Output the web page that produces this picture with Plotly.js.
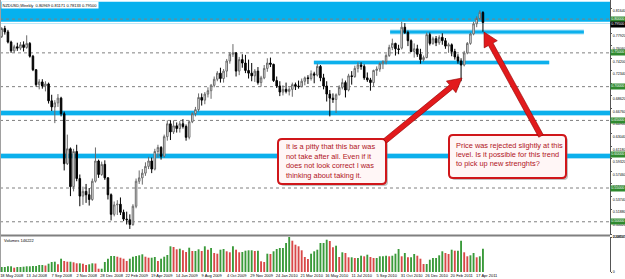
<!DOCTYPE html>
<html><head><meta charset="utf-8">
<script src="https://cdn.plot.ly/plotly-3.0.1.min.js"></script>
<style>html,body{margin:0;padding:0;background:#fff;}#chart{width:625px;height:279px;}</style>
</head><body><div id="chart"></div>
<script>
// NZDUSD weekly, first bar = week of 18 May 2008
const openP = [.7740,.7860,.7810,.7660,.7530,.7590,.7570,.7620,.7580,.7640,
.7450,.7250,.7030,.7070,.7010,.7040,.6790,.6700,.6760,.6830,
.6600,.5860,.6080,.5520,.6040,.5640,.5380,.5450,.5400,.5330,
.5600,.5900,.5700,.5850,.5650,.5400,.5110,.5250,.5260,.5140,
.5040,.5030,.4960,.5230,.5600,.5650,.5720,.5820,.5900,.5780,
.6040,.6100,.5970,.6260,.6450,.6330,.6420,.6380,.6450,.6410,
.6250,.6480,.6600,.6660,.6840,.6800,.6890,.6940,.7020,.7110,
.7200,.7120,.7230,.7380,.7480,.7500,.7230,.7400,.7350,.7240,
.7200,.7160,.7230,.7060,.7130,.7270,.7350,.7330,.7090,.7010,
.6920,.6960,.6930,.6960,.7030,.7010,.7000,.7080,.7130,.7120,
.7190,.7170,.7300,.7130,.7010,.6890,.6830,.6810,.6880,.6990,
.7060,.6950,.7160,.7150,.7270,.7320,.7300,.7130,.7100,.7060,
.7240,.7260,.7340,.7370,.7460,.7580,.7640,.7560,.7570,.7880,
.7800,.7680,.7520,.7560,.7480,.7400,.7430,.7770,.7640,.7710,
.7650,.7730,.7680,.7600,.7620,.7520,.7440,.7380,.7320,.7500,
.7640,.7780,.7930,.8010,.80969];
const highP = [.7880,.7900,.7840,.7680,.7620,.7650,.7660,.7670,.7760,.7660,
.7470,.7260,.7110,.7110,.7080,.7060,.6880,.6800,.6890,.6850,
.6630,.6290,.6100,.6080,.6140,.5700,.5520,.5560,.5500,.5640,
.6100,.5920,.5890,.5910,.5660,.5420,.5300,.5320,.5360,.5180,
.5150,.5110,.5260,.5640,.5760,.5780,.5880,.5960,.5950,.6080,
.6140,.6120,.6290,.6500,.6500,.6500,.6470,.6490,.6520,.6440,
.6500,.6620,.6700,.6900,.6900,.6920,.6990,.7040,.7150,.7230,
.7280,.7260,.7410,.7510,.7630,.7510,.7440,.7480,.7470,.7400,
.7350,.7260,.7290,.7160,.7320,.7420,.7430,.7340,.7150,.7080,
.7020,.7060,.6990,.7060,.7060,.7090,.7120,.7150,.7170,.7240,
.7220,.7340,.7320,.7190,.7080,.6950,.6900,.6900,.7020,.7120,
.7090,.7190,.7230,.7310,.7360,.7360,.7330,.7210,.7130,.7250,
.7300,.7360,.7390,.7490,.7620,.7710,.7650,.7620,.7960,.7940,
.7830,.7700,.7640,.7620,.7560,.7460,.7800,.7800,.7740,.7750,
.7760,.7790,.7720,.7650,.7640,.7560,.7480,.7420,.7530,.7660,
.7800,.7960,.8040,.8130,.81171];
const lowP = [.7720,.7770,.7640,.7500,.7500,.7530,.7540,.7520,.7560,.7430,
.7230,.7000,.6960,.6970,.6930,.6750,.6640,.6460,.6700,.6560,
.5760,.5840,.5380,.5450,.5600,.5230,.5250,.5280,.5240,.5310,
.5580,.5650,.5680,.5620,.5330,.5020,.5080,.5100,.5100,.5010,
.4960,.4894,.4940,.5200,.5560,.5550,.5680,.5780,.5720,.5760,
.5950,.5920,.5950,.6200,.6210,.6300,.6320,.6320,.6380,.6200,
.6220,.6460,.6560,.6630,.6720,.6740,.6840,.6820,.6990,.7080,
.7060,.7060,.7140,.7340,.7440,.7150,.7170,.7280,.7200,.7120,
.7080,.7070,.7030,.7000,.7110,.7220,.7290,.7070,.6980,.6860,
.6870,.6900,.6870,.6850,.6950,.6970,.6990,.7020,.7040,.7090,
.7050,.7150,.7080,.6960,.6780,.6560,.6760,.6610,.6870,.6960,
.6840,.6930,.7030,.7130,.7210,.7250,.7100,.7070,.6940,.7000,
.7160,.7220,.7260,.7330,.7440,.7540,.7460,.7480,.7550,.7780,
.7600,.7510,.7430,.7440,.7340,.7370,.7420,.7610,.7620,.7600,
.7620,.7620,.7560,.7500,.7450,.7400,.7340,.7080,.7300,.7480,
.7620,.7760,.7880,.7990,.78133];
const closeP = [.7860,.7810,.7660,.7530,.7590,.7570,.7620,.7580,.7640,.7450,
.7250,.7030,.7070,.7010,.7040,.6790,.6700,.6760,.6830,.6600,
.5860,.6080,.5520,.6040,.5640,.5380,.5450,.5400,.5330,.5600,
.5900,.5700,.5850,.5650,.5400,.5110,.5250,.5260,.5140,.5040,
.5030,.4960,.5230,.5600,.5650,.5720,.5820,.5900,.5780,.6040,
.6100,.5970,.6260,.6450,.6330,.6420,.6380,.6450,.6410,.6250,
.6480,.6600,.6660,.6840,.6800,.6890,.6940,.7020,.7110,.7200,
.7120,.7230,.7380,.7480,.7500,.7230,.7400,.7350,.7240,.7200,
.7160,.7230,.7060,.7130,.7270,.7350,.7330,.7090,.7010,.6920,
.6960,.6930,.6960,.7030,.7010,.7000,.7080,.7130,.7120,.7190,
.7170,.7300,.7130,.7010,.6890,.6830,.6810,.6880,.6990,.7060,
.6950,.7160,.7150,.7270,.7320,.7300,.7130,.7100,.7060,.7240,
.7260,.7340,.7370,.7460,.7580,.7640,.7560,.7550,.7880,.7800,
.7680,.7520,.7560,.7480,.7400,.7430,.7770,.7640,.7710,.7650,
.7730,.7680,.7600,.7620,.7520,.7440,.7380,.7320,.7500,.7640,
.7780,.7930,.8010,.8100,.79500];
const volume = [31550,31550,35970,35970,27130,31550,31550,33440,35970,35970,
37860,37860,44170,44170,41020,52370,63100,64990,48590,83920,
69410,64990,64990,61210,54900,54900,52370,44170,48590,54900,
53640,20820,20820,63100,83920,100960,100960,96540,90230,83920,
69410,83920,96540,100960,105380,111690,96540,90230,90230,94650,
69410,83920,96540,107270,162170,157750,143240,147020,136930,126200,
153330,132510,132510,143240,132510,162170,140710,151440,119890,115470,
140710,145130,130620,124310,162170,140710,124310,126200,134400,136930,
136930,132510,134400,67520,63100,115470,113580,130620,145130,151440,
151440,182990,220857,197500,172260,162170,136930,94650,82030,115470,
130620,140710,182990,182990,203810,195610,155860,165950,94650,124310,
119890,92760,92760,88340,88340,102850,99070,109160,94650,88340,
88340,99070,99070,102850,99070,102850,115470,145130,99070,119890,
92760,92760,113580,102850,83920,50480,50480,77610,88340,88340,
105380,130620,119890,113580,140710,134400,134400,197500,124310,99070,
105380,119890,92760,99070,146222];
const tickIdx = [0,8,16,24,32,40,48,56,64,72,80,88,96,104,112,120,128,136,144,152];
const tickLabels = ['18 May 2008','13 Jul 2008','7 Sep 2008','2 Nov 2008','28 Dec 2008','22 Feb 2009',
'19 Apr 2009','14 Jun 2009','9 Aug 2009','4 Oct 2009','29 Nov 2009','24 Jan 2010','21 Mar 2010',
'16 May 2010','11 Jul 2010','5 Sep 2010','31 Oct 2010','26 Dec 2010','20 Feb 2011','17 Apr 2011'];
const priceTicks = [0.81640,0.79780,0.77920,0.76060,0.74200,0.72340,0.70480,0.68620,0.66760,0.64900,
0.63040,0.61180,0.59320,0.57460,0.55600,0.53740,0.51880,0.50020,0.48160];
const roundLevels = [0.80,0.75,0.70,0.65,0.60,0.55,0.50];
const zoneLevels = [0.7809,0.7357,0.6610,0.5974];
const zoneStart = [124.3,99.9,null,null];
const zoneEnd = [186.3,175.2,null,null];
const lastPrice = 0.79500;
const titleText = 'NZDUSD,Weekly  0.80969 0.81171 0.78133 0.79500';
const volLabel = 'Volumes 146222';
const note1 = ['It is a pitty that this bar was','not take after all. Even if it','does not look correct I was','thinking about taking it.'];
const note2 = ['Price was rejected slightly at this','level. Is it possible for this trend','to pick up new strenghts?'];

const W = 610, H = 272;
const fx = p => p / W, fy = p => 1 - p / H;
const P = (x, y) => fx(x).toFixed(5) + ',' + fy(y).toFixed(5);
const x = openP.map((_, i) => i);

const candles = {type:'candlestick', x, open:openP, high:highP, low:lowP, close:closeP,
  xaxis:'x', yaxis:'y', whiskerwidth:0, hoverinfo:'skip', showlegend:false,
  increasing:{line:{color:'#6a6a6a', width:1}, fillcolor:'#ffffff'},
  decreasing:{line:{color:'#000000', width:1}, fillcolor:'#000000'}};
const volColors = volume.map((v, i) => (i === 0 || v >= volume[i-1]) ? '#3a9a3a' : '#d84848');
const vols = {type:'bar', x, y:volume, xaxis:'x', yaxis:'y2', width:0.6,
  marker:{color:volColors, line:{width:0}}, hoverinfo:'skip', showlegend:false};

const shapes = [];
shapes.push({type:'rect', xref:'paper', yref:'paper', x0:0, x1:1, y0:fy(21.7), y1:fy(1.7),
  fillcolor:'#06b1ee', line:{width:0}, layer:'below'});
shapes.push({type:'line', xref:'paper', yref:'paper', x0:0, x1:1, y0:fy(23.5), y1:fy(23.5),
  line:{color:'#b9e8f8', width:1}, layer:'below'});
roundLevels.forEach(l => shapes.push({type:'line', xref:'paper', yref:'y', x0:0, x1:1, y0:l, y1:l,
  line:{color:'#808080', width:1, dash:'dot'}, layer:'below'}));
zoneLevels.forEach((l, k) => {
  const full = zoneStart[k] === null;
  const base = full ? {xref:'paper', x0:0, x1:1} : {xref:'x', x0:zoneStart[k], x1:zoneEnd[k]};
  const w = full ? 4 : 3;
  shapes.push(Object.assign({type:'line', yref:'y', y0:l, y1:l, line:{color:'#a9e3f8', width:w+2}, layer:'below'}, base));
  shapes.push(Object.assign({type:'line', yref:'y', y0:l, y1:l, line:{color:'#0cb0ec', width:w}, layer:'below'}, base));
});
shapes.push({type:'line', xref:'paper', yref:'paper', x0:0, x1:1, y0:fy(235.5), y1:fy(235.5), line:{color:'#808080', width:2}});
shapes.push({type:'line', xref:'paper', yref:'paper', x0:fx(0.5), x1:fx(0.5), y0:fy(0), y1:fy(272), line:{color:'#a0a0a0', width:1}});

function roundRect(x0, y0, x1, y1, r) {
  return 'M' + P(x0+r,y0) + ' L' + P(x1-r,y0) + ' Q' + P(x1,y0) + ' ' + P(x1,y0+r) +
    ' L' + P(x1,y1-r) + ' Q' + P(x1,y1) + ' ' + P(x1-r,y1) + ' L' + P(x0+r,y1) +
    ' Q' + P(x0,y1) + ' ' + P(x0,y1-r) + ' L' + P(x0,y0+r) + ' Q' + P(x0,y0) + ' ' + P(x0+r,y0) + ' Z';
}
function arrow(tx, ty, ex, ey) {
  const dx = ex - tx, dy = ey - ty, L = Math.hypot(dx, dy);
  const ux = dx / L, uy = dy / L, nx = -uy, ny = ux;
  const hl = 14, hw = 7.5, sw = 2.6;
  const bx = ex - ux*hl, by = ey - uy*hl;
  const pts = [[tx+nx*sw, ty+ny*sw],[bx+nx*sw, by+ny*sw],[bx+nx*hw, by+ny*hw],[ex, ey],
    [bx-nx*hw, by-ny*hw],[bx-nx*sw, by-ny*sw],[tx-nx*sw, ty-ny*sw]];
  return 'M' + pts.map(p => P(p[0], p[1])).join(' L') + ' Z';
}
const boxes = [[278,139,386,184],[449,135,566,178]];
boxes.forEach(b => {
  shapes.push({type:'path', xref:'paper', yref:'paper', path:roundRect(b[0]+2,b[1]+2,b[2]+2,b[3]+2,4),
    fillcolor:'rgba(120,120,120,0.45)', line:{width:0}});
  shapes.push({type:'path', xref:'paper', yref:'paper', path:roundRect(b[0],b[1],b[2],b[3],4),
    fillcolor:'#fff6f6', line:{color:'#d0161a', width:2}});
});
shapes.push({type:'path', xref:'paper', yref:'paper', path:arrow(385,141,462,78),
  fillcolor:'#e21a1c', line:{color:'#8e0000', width:0.6}});
shapes.push({type:'path', xref:'paper', yref:'paper', path:arrow(541,136,484,32),
  fillcolor:'#e21a1c', line:{color:'#8e0000', width:0.6}});

const annotations = [];
annotations.push({xref:'paper', yref:'paper', x:fx(1), y:fy(0.5), xanchor:'left', yanchor:'top',
  text:titleText, showarrow:false, bgcolor:'#ffffff', borderpad:0.5, font:{size:4, color:'#000'}});
annotations.push({xref:'paper', yref:'paper', x:fx(2), y:fy(240), xanchor:'left', yanchor:'middle',
  text:volLabel, showarrow:false, font:{size:4, color:'#000'}});
roundLevels.forEach(l => annotations.push({xref:'paper', yref:'y', x:1, y:l, xanchor:'left', yanchor:'middle',
  xshift:0, text:l.toFixed(5), showarrow:false, bgcolor:'#2f8a2f', borderpad:0.3, font:{size:3.6, color:'#ffffff'}}));
annotations.push({xref:'paper', yref:'y', x:1, y:lastPrice, xanchor:'left', yanchor:'middle', xshift:0, yshift:-2,
  text:lastPrice.toFixed(5), showarrow:false, bgcolor:'#000000', borderpad:0.3, font:{size:3.6, color:'#ffffff'}});
const lineY1 = [146.5,156,165.5,175], lineY2 = [145,154.3,163.5];
note1.forEach((t, k) => annotations.push({xref:'paper', yref:'paper', x:fx(284), y:fy(lineY1[k]), xanchor:'left', yanchor:'middle',
  text:t, showarrow:false, font:{size:7.4, color:'#b0141c'}}));
note2.forEach((t, k) => annotations.push({xref:'paper', yref:'paper', x:fx(454), y:fy(lineY2[k]), xanchor:'left', yanchor:'middle',
  text:t, showarrow:false, font:{size:7.4, color:'#b0141c'}}));

const layout = {
  width:625, height:279, margin:{l:0, r:15, t:0, b:7, pad:0},
  paper_bgcolor:'#ffffff', plot_bgcolor:'#ffffff', showlegend:false,
  font:{family:'Liberation Sans, Arial, sans-serif', size:4, color:'#000'},
  xaxis:{anchor:'y2', domain:[0,1], range:[-0.544,194.66], tickmode:'array', tickvals:tickIdx, ticktext:tickLabels,
    tickangle:0, ticks:'', showgrid:false, zeroline:false, showline:false, tickfont:{size:4}, ticklabelshift:10,
    ticklabelstandoff:0, rangeslider:{visible:false}, fixedrange:true},
  yaxis:{domain:[1-235/272,1], range:[0.48044,0.82824], side:'right', anchor:'x', tickmode:'array',
    tickvals:priceTicks, ticktext:priceTicks.map(v => v.toFixed(5)), ticks:'outside', ticklen:1, tickcolor:'#555',
    showline:true, linecolor:'#555', linewidth:1, showgrid:false, zeroline:false, tickfont:{size:3.6}, ticklabelshift:3},
  yaxis2:{domain:[0,1-237/272], range:[0,220857], side:'right', anchor:'x', tickmode:'array',
    tickvals:[0,220857], ticktext:['0','220857'], ticks:'outside', ticklen:1, tickcolor:'#555',
    showline:true, linecolor:'#555', linewidth:1, showgrid:false, zeroline:false, tickfont:{size:3.6}, ticklabelshift:-2.5},
  shapes, annotations
};
Plotly.newPlot('chart', [vols, candles], layout, {staticPlot:true, displayModeBar:false});
</script></body></html>
